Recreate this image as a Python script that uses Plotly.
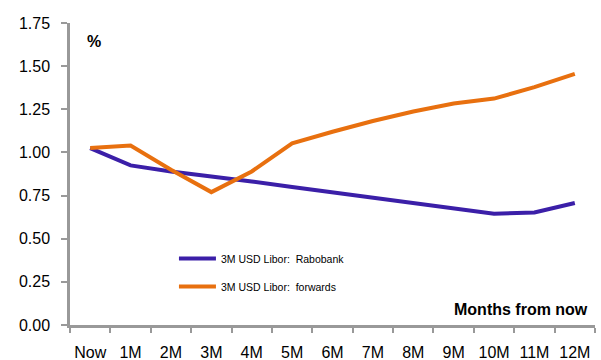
import plotly.graph_objects as go

categories = ["Now", "1M", "2M", "3M", "4M", "5M", "6M", "7M", "8M", "9M", "10M", "11M", "12M"]
rabobank = [1.025, 0.925, 0.89, 0.862, 0.832, 0.80, 0.77, 0.738, 0.708, 0.677, 0.645, 0.652, 0.707]
forwards = [1.025, 1.04, 0.90, 0.77, 0.89, 1.052, 1.12, 1.182, 1.237, 1.283, 1.312, 1.378, 1.455]
y_ticks = [0, 0.25, 0.5, 0.75, 1.0, 1.25, 1.5, 1.75]

fig = go.Figure()
fig.add_trace(go.Scatter(x=categories, y=rabobank, mode="lines", name="3M USD Libor:  Rabobank",
                         line=dict(color="#3B1FA8", width=4), legendgroup="a"))
fig.add_trace(go.Scatter(x=categories, y=forwards, mode="lines", name="3M USD Libor:  forwards",
                         line=dict(color="#E8700F", width=4), legendgroup="b"))

axis_col = "#999999"
fig.update_layout(
    width=601, height=360,
    margin=dict(l=70, r=6, t=23, b=35),
    paper_bgcolor="white", plot_bgcolor="white",
    font=dict(family="Liberation Sans, Arial", size=16, color="#000"),
    showlegend=True,
    legend=dict(x=0.198, y=0.268, xanchor="left", yanchor="top", bgcolor="rgba(0,0,0,0)",
                font=dict(size=10.5), traceorder="grouped", tracegroupgap=9, itemwidth=37),
    xaxis=dict(type="category", tickson="boundaries", showgrid=False, showline=True,
               linecolor=axis_col, linewidth=2.5, ticks="outside", ticklen=5, tickwidth=2,
               tickcolor=axis_col, range=[-0.5, 12.5], ticklabelstandoff=11, tickangle=0,
               automargin=False),
    yaxis=dict(range=[0, 1.75], tickvals=y_ticks, tickformat=".2f", showgrid=False,
               showline=True, linecolor=axis_col, linewidth=2.5, ticks="outside", ticklen=6,
               tickwidth=2, tickcolor=axis_col, zeroline=False, ticklabelstandoff=8,
               automargin=False),
    annotations=[
        dict(text="<b>%</b>", xref="paper", yref="paper", x=0.028, y=0.940, xanchor="left",
             yanchor="middle", showarrow=False, font=dict(size=16)),
        dict(text="<b>Months from now</b>", xref="paper", yref="paper", x=1, y=0.05,
             xanchor="right", yanchor="middle", xshift=-5, showarrow=False, font=dict(size=16)),
    ],
)
fig.write_html("out.html")
